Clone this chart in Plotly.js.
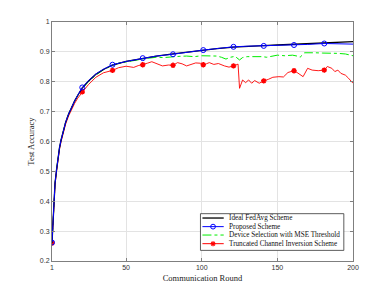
<!DOCTYPE html>
<html>
<head>
<meta charset="utf-8">
<script src="https://cdn.plot.ly/plotly-3.0.1.min.js"></script>
<style>html,body{margin:0;padding:0;background:#fff;}#chart{width:390px;height:293px;}</style>
</head>
<body>
<div id="chart"></div>
<script>
// ---- data ----
const idealRounds = [1,2,3,4,5,6,7,8,10,12,14,16,18,21,25,30,35,41,50,61,70,81,90,101,110,121,130,141,150,161,170,181,190,200];
const idealAcc    = [0.26,0.39,0.46,0.505,0.545,0.58,0.605,0.627,0.664,0.692,0.716,0.736,0.754,0.779,0.802,0.825,0.841,0.856,0.868,0.879,0.886,0.893,0.899,0.906,0.911,0.916,0.919,0.921,0.923,0.925,0.927,0.929,0.931,0.934];

const propRounds = [1,2,3,4,5,6,7,8,10,12,14,16,18,21,25,30,35,41,50,61,70,81,90,101,110,121,130,141,150,161,170,181,190,200];
const propAcc    = [0.262,0.39,0.46,0.505,0.545,0.58,0.605,0.627,0.664,0.692,0.716,0.736,0.755,0.781,0.803,0.826,0.842,0.857,0.868,0.879,0.886,0.892,0.899,0.906,0.911,0.917,0.919,0.920,0.921,0.923,0.925,0.928,0.928,0.926];

const mseRounds = [1,2,3,4,5,6,7,8,10,12,14,16,18,21,25,30,35,41,45,50,55,61,65,70,75,80,85,90,95,100,105,110,113,116,119,122,125,127,130,135,140,143,146,150,155,160,163,165,168,171,175,180,185,190,195,198,200];
const mseAcc    = [0.26,0.39,0.46,0.505,0.545,0.58,0.605,0.627,0.664,0.692,0.716,0.736,0.754,0.776,0.8,0.822,0.84,0.855,0.862,0.867,0.872,0.876,0.879,0.882,0.881,0.884,0.885,0.886,0.884,0.887,0.887,0.886,0.882,0.876,0.882,0.885,0.873,0.881,0.884,0.885,0.884,0.882,0.885,0.889,0.887,0.889,0.886,0.882,0.897,0.898,0.897,0.896,0.896,0.895,0.893,0.889,0.887];

const tciRounds = [1,2,3,4,5,6,7,8,10,12,14,16,18,21,25,30,35,41,45,50,55,58,61,64,67,70,74,78,81,84,87,90,93,96,99,101,103,105,108,111,115,118,121,124,125,127,129,131,133,135,138,141,144,147,151,154,157,161,163,167,170,173,177,181,183,186,188,190,192,195,197,200];
const tciAcc    = [0.26,0.385,0.455,0.5,0.54,0.575,0.6,0.622,0.658,0.686,0.709,0.728,0.745,0.766,0.79,0.815,0.83,0.838,0.847,0.852,0.848,0.854,0.857,0.862,0.867,0.86,0.853,0.856,0.855,0.864,0.86,0.853,0.857,0.863,0.862,0.857,0.86,0.864,0.858,0.861,0.853,0.849,0.853,0.859,0.778,0.806,0.797,0.806,0.795,0.804,0.795,0.803,0.808,0.815,0.817,0.816,0.831,0.837,0.831,0.817,0.845,0.839,0.837,0.839,0.851,0.845,0.834,0.839,0.828,0.822,0.812,0.795];

const markerRounds = [1,21,41,61,81,101,121,141,161,181];

const xTickVals = [1,50,100,150,200];
const yTickVals = [0.2,0.3,0.4,0.5,0.6,0.7,0.8,0.9,1];
const yTickText = ['0.2','0.3','0.4','0.5','0.6','0.7','0.8','0.9','1'];

const names = ['Ideal FedAvg Scheme','Proposed Scheme','Device Selection with MSE Threshold','Truncated Channel Inversion Scheme'];
const colors = ['#000000','#0000ff','#00ee00','#ff0000'];

function pick(xs, ys, rs){
  const ox=[], oy=[];
  rs.forEach(r=>{const i=xs.indexOf(r); if(i>=0){ox.push(xs[i]); oy.push(ys[i]);}});
  return {x:ox,y:oy};
}

const blueM = pick(propRounds, propAcc, markerRounds);
const redM  = pick(tciRounds, tciAcc, markerRounds);

const traces = [
  {x:mseRounds, y:mseAcc, mode:'lines', name:names[2], line:{color:colors[2], width:1, dash:'dashdot'}},
  {x:tciRounds, y:tciAcc, mode:'lines', name:names[3], line:{color:colors[3], width:0.9}},
  {x:redM.x, y:redM.y, mode:'markers', name:names[3], marker:{symbol:'asterisk-open', size:4.5, color:colors[3], line:{color:colors[3], width:1.5}}},
  {x:idealRounds, y:idealAcc, mode:'lines', name:names[0], line:{color:colors[0], width:1.3}},
  {x:propRounds, y:propAcc, mode:'lines', name:names[1], line:{color:colors[1], width:1}},
  {x:blueM.x, y:blueM.y, mode:'markers', name:names[1], marker:{symbol:'circle-open', size:5, color:colors[1], line:{color:colors[1], width:1}}}
];

// ---- custom legend (layout positions in paper coordinates) ----
const legBox = {x0:0.4932, x1:0.9695, y0:0.0444, y1:0.198};
const legRowY = [0.1798, 0.1438, 0.1086, 0.0725];
const legLineX = [0.4998, 0.5705];
const legMarkX = 0.535;
const legTextX = 0.5813;
const legDash = ['solid','solid','dashdot','solid'];
const legWidth = [1.3,1,1,1];

const shapes = [
  {type:'rect', xref:'paper', yref:'paper', x0:legBox.x0, x1:legBox.x1, y0:legBox.y0, y1:legBox.y1,
   line:{color:'#333', width:0.8}, fillcolor:'#fff', layer:'above'}
];
const annotations = [];
names.forEach((n,i)=>{
  shapes.push({type:'line', xref:'paper', yref:'paper', x0:legLineX[0], x1:legLineX[1], y0:legRowY[i], y1:legRowY[i],
    line:{color:colors[i], width:legWidth[i], dash:legDash[i]}, layer:'above'});
  annotations.push({xref:'paper', yref:'paper', x:legTextX, y:legRowY[i], xanchor:'left', yanchor:'middle', showarrow:false,
    text:n, font:{family:'Liberation Serif, Times New Roman, serif', size:7.2, color:'#111'}});
});
// blue open circle key
shapes.push({type:'circle', xref:'paper', yref:'paper', xsizemode:'pixel', ysizemode:'pixel',
  xanchor:legMarkX, yanchor:legRowY[1], x0:-2.4, x1:2.4, y0:-2.4, y1:2.4,
  line:{color:colors[1], width:1}, fillcolor:'rgba(0,0,0,0)', layer:'above'});
// red asterisk key
[[-2.5,0,2.5,0],[-1.8,-1.8,1.8,1.8],[-1.8,1.8,1.8,-1.8],[0,-2.5,0,2.5]].forEach(s=>{
  shapes.push({type:'line', xref:'paper', yref:'paper', xsizemode:'pixel', ysizemode:'pixel',
    xanchor:legMarkX, yanchor:legRowY[3], x0:s[0], y0:s[1], x1:s[2], y1:s[3],
    line:{color:colors[3], width:1.3}, layer:'above'});
});

const axisCommon = {
  showline:true, linecolor:'#7f7f7f', linewidth:1, mirror:'allticks',
  ticks:'inside', ticklen:3, tickcolor:'#7f7f7f', tickwidth:1,
  showgrid:true, gridcolor:'#e3e3e3', gridwidth:1, zeroline:false, automargin:false,
  tickfont:{family:'Liberation Sans, Arial, sans-serif', size:7, color:'#333'}
};

const layout = {
  width:390, height:293,
  margin:{l:52, r:36.5, t:22, b:32.4},
  paper_bgcolor:'#fff', plot_bgcolor:'#fff',
  showlegend:false,
  xaxis:Object.assign({}, axisCommon, {range:[1,200], tickmode:'array', tickvals:xTickVals, ticktext:xTickVals.map(String),
    title:{text:'Communication Round', font:{family:'Liberation Serif, Times New Roman, serif', size:8.5, color:'#222'}, standoff:4}}),
  yaxis:Object.assign({}, axisCommon, {range:[0.2,1], tickmode:'array', tickvals:yTickVals, ticktext:yTickText,
    title:{text:'Test Accuracy', font:{family:'Liberation Serif, Times New Roman, serif', size:8.5, color:'#222'}, standoff:3}}),
  shapes:shapes,
  annotations:annotations
};

Plotly.newPlot('chart', traces, layout, {staticPlot:true, displayModeBar:false});
</script>
</body>
</html>
